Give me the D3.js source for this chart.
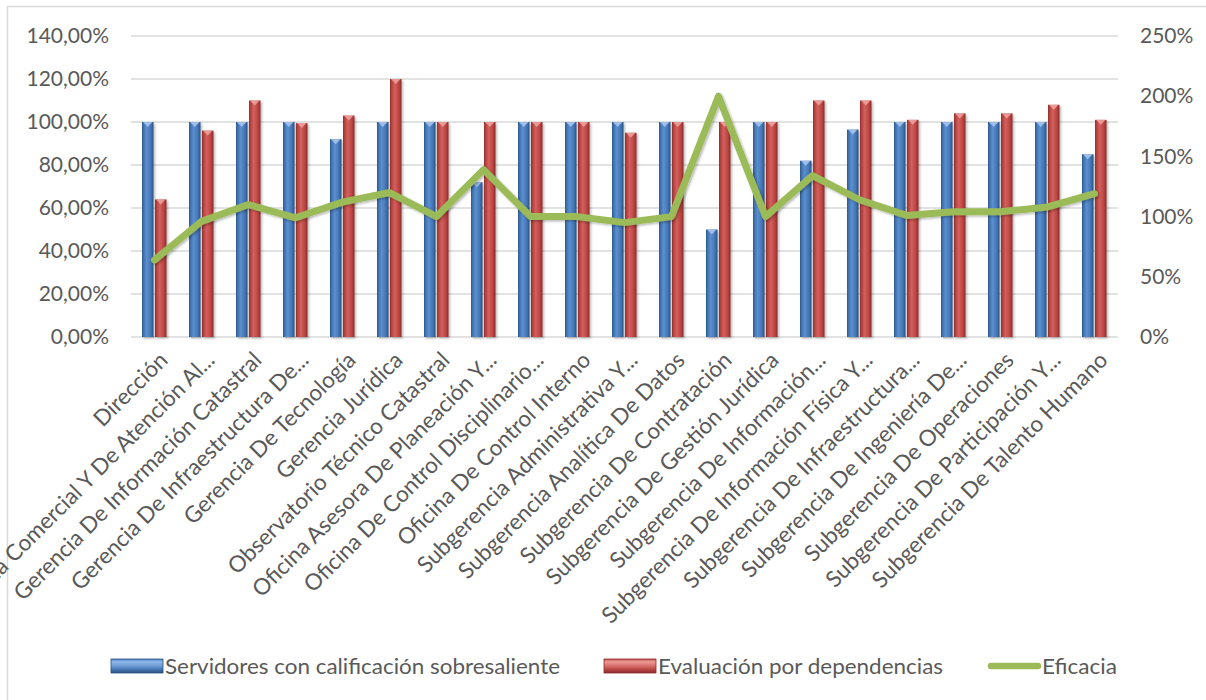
<!DOCTYPE html>
<html>
<head>
<meta charset="utf-8">
<script src="https://cdn.jsdelivr.net/npm/d3@7"></script>
<style>
  html, body { margin: 0; padding: 0; background: #ffffff; }
  svg { display: block; font-family: Lato, "Open Sans", sans-serif; }
</style>
</head>
<body>
<svg id="chart" width="1206" height="700"></svg>
<script>
// Dependencias evaluadas
const categories = [
  "Dirección",
  "Gerencia Comercial Y De Atención Al...",
  "Gerencia De Información Catastral",
  "Gerencia De Infraestructura De...",
  "Gerencia De Tecnología",
  "Gerencia Jurídica",
  "Observatorio Técnico Catastral",
  "Oficina Asesora De Planeación Y...",
  "Oficina De Control Disciplinario...",
  "Oficina De Control Interno",
  "Subgerencia Administrativa Y...",
  "Subgerencia Analítica De Datos",
  "Subgerencia De Contratación",
  "Subgerencia De Gestión Jurídica",
  "Subgerencia De Información...",
  "Subgerencia De Información Física Y...",
  "Subgerencia De Infraestructura...",
  "Subgerencia De Ingeniería De...",
  "Subgerencia De Operaciones",
  "Subgerencia De Participación Y...",
  "Subgerencia De Talento Humano"
];

// Servidores con calificación sobresaliente (eje izquierdo)
const servidores = [1.00, 1.00, 1.00, 1.00, 0.92, 1.00, 1.00, 0.72, 1.00, 1.00, 1.00,
                    1.00, 0.50, 1.00, 0.82, 0.965, 1.00, 1.00, 1.00, 1.00, 0.85];

// Evaluación por dependencias (eje izquierdo)
const evaluacion = [0.64, 0.96, 1.10, 0.995, 1.03, 1.20, 1.00, 1.00, 1.00, 1.00, 0.95,
                    1.00, 1.00, 1.00, 1.10, 1.10, 1.01, 1.04, 1.04, 1.08, 1.01];

// Eficacia (eje derecho)
const eficacia = [0.64, 0.96, 1.10, 0.99, 1.12, 1.20, 1.00, 1.39, 1.00, 1.00, 0.95,
                  1.00, 2.00, 1.00, 1.34, 1.14, 1.01, 1.04, 1.04, 1.08, 1.19];

const leftTicks = [0, 0.2, 0.4, 0.6, 0.8, 1.0, 1.2, 1.4];
const rightTicks = [0, 0.5, 1.0, 1.5, 2.0, 2.5];

const seriesNames = ["Servidores con calificación sobresaliente", "Evaluación por dependencias", "Eficacia"];

const svg = d3.select("#chart");
const W = 1206, H = 700;
const plot = { left: 131, right: 1118, top: 36, bottom: 337 };

const esLocale = d3.formatLocale({ decimal: ",", thousands: ".", grouping: [3], currency: ["", " €"], percent: "%" });
const fmtLeft = esLocale.format(".2%");
const fmtRight = d3.format(".0%");

const x = d3.scaleBand().domain(categories).range([plot.left, plot.right]).padding(0);
const yL = d3.scaleLinear().domain([0, 1.4]).range([plot.bottom, plot.top]);
const yR = d3.scaleLinear().domain([0, 2.5]).range([plot.bottom, plot.top]);

const textColor = "#595959";
const gridColor = "#d9d9d9";

// Fondo y borde del área del gráfico
svg.append("rect").attr("width", W).attr("height", H).attr("fill", "#ffffff");
svg.append("rect").attr("x", 7.5).attr("y", 6.5).attr("width", 1400).attr("height", 900)
  .attr("fill", "none").attr("stroke", gridColor).attr("stroke-width", 1.5);

// Degradados para el efecto de barra en relieve
const defs = svg.append("defs");
function barGradient(id, stops) {
  const g = defs.append("linearGradient").attr("id", id).attr("x1", "0%").attr("x2", "100%").attr("y1", "0%").attr("y2", "0%");
  stops.forEach(s => g.append("stop").attr("offset", s[0]).attr("stop-color", s[1]));
}
barGradient("gBlue", [["0%", "#2c5587"], ["12%", "#3f6fab"], ["40%", "#5b8fd0"], ["75%", "#4677b5"], ["100%", "#2a5283"]]);
barGradient("gRed", [["0%", "#8e2f2d"], ["12%", "#b23f3c"], ["40%", "#d2605d"], ["75%", "#bd4643"], ["100%", "#8a2d2b"]]);

function legendGradient(id, stops) {
  const g = defs.append("linearGradient").attr("id", id).attr("x1", "0%").attr("x2", "0%").attr("y1", "0%").attr("y2", "100%");
  stops.forEach(s => g.append("stop").attr("offset", s[0]).attr("stop-color", s[1]));
}
legendGradient("lgBlue", [["0%", "#4f81bd"], ["20%", "#8fb8ea"], ["50%", "#6d9bd6"], ["80%", "#3f6ea8"], ["100%", "#2a5283"]]);
legendGradient("lgRed", [["0%", "#c0504d"], ["20%", "#f09a97"], ["50%", "#d76c69"], ["80%", "#b03f3c"], ["100%", "#8a2d2b"]]);

const shadow = defs.append("filter").attr("id", "shadow").attr("x", "-20%").attr("y", "-20%").attr("width", "140%").attr("height", "140%");
shadow.append("feDropShadow").attr("dx", 1.5).attr("dy", 1.5).attr("stdDeviation", 1.2)
  .attr("flood-color", "#000000").attr("flood-opacity", 0.28);

// Líneas de cuadrícula
svg.append("g").selectAll("line").data(leftTicks).join("line")
  .attr("x1", plot.left).attr("x2", plot.right)
  .attr("y1", d => yL(d)).attr("y2", d => yL(d))
  .attr("stroke", gridColor).attr("stroke-width", 1.6);

// Ejes
const axisL = svg.append("g").attr("transform", `translate(${plot.left - 22},0)`)
  .call(d3.axisLeft(yL).tickValues(leftTicks).tickFormat(fmtLeft).tickSize(0).tickPadding(0));
const axisR = svg.append("g").attr("transform", `translate(${plot.right + 22},0)`)
  .call(d3.axisRight(yR).tickValues(rightTicks).tickFormat(fmtRight).tickSize(0).tickPadding(0));
[axisL, axisR].forEach(a => {
  a.select(".domain").remove();
  a.selectAll("text").attr("fill", textColor).style("font-size", "21px").style("font-family", "Lato, sans-serif");
});

// Barras
const barW = 11.5;
const bars = svg.append("g");
function drawBars(values, offset, fill, cap) {
  const g = bars.append("g").attr("filter", "url(#shadow)");
  g.selectAll("rect").data(values).join("rect")
    .attr("x", (d, i) => x(categories[i]) + x.bandwidth() / 2 + offset)
    .attr("y", d => yL(d))
    .attr("width", barW)
    .attr("height", d => yL(0) - yL(d))
    .attr("fill", fill);
  // tapa biselada superior
  bars.append("g").selectAll("path").data(values).join("path")
    .attr("d", (d, i) => {
      const x0 = x(categories[i]) + x.bandwidth() / 2 + offset;
      const y0 = yL(d);
      return `M${x0 + 1},${y0} L${x0 + barW - 1},${y0} L${x0 + barW / 2},${y0 + 5} Z`;
    })
    .attr("fill", cap).attr("opacity", 0.85);
}
drawBars(servidores, -12.5, "url(#gBlue)", "#a9c8f0");
drawBars(evaluacion, 0.5, "url(#gRed)", "#f0a4a2");

// Línea de eficacia
const line = d3.line()
  .x((d, i) => x(categories[i]) + x.bandwidth() / 2)
  .y(d => yR(d));
svg.append("path").datum(eficacia)
  .attr("d", line)
  .attr("fill", "none")
  .attr("stroke", "#9bbb59")
  .attr("stroke-width", 7)
  .attr("stroke-linejoin", "round")
  .attr("stroke-linecap", "round")
  .attr("filter", "url(#shadow)");

// Etiquetas de categoría giradas
svg.append("g").selectAll("text").data(categories).join("text")
  .attr("transform", d => `translate(${x(d) + x.bandwidth() / 2 + 9},${plot.bottom + 19}) rotate(-45)`)
  .attr("text-anchor", "end")
  .attr("dy", "0.35em")
  .attr("fill", textColor)
  .style("font-size", "22.5px")
  .text(d => d);

// Leyenda
const leg = svg.append("g");
const legY = 666;
leg.append("rect").attr("x", 111).attr("y", legY - 7).attr("width", 52).attr("height", 14)
  .attr("fill", "url(#lgBlue)").attr("stroke", "#2a5283").attr("stroke-width", 0.8);
leg.append("text").attr("x", 165).attr("y", legY).attr("dy", "0.36em")
  .attr("fill", textColor).style("font-size", "21px")
  .attr("textLength", 395).attr("lengthAdjust", "spacingAndGlyphs")
  .text(seriesNames[0]);
leg.append("rect").attr("x", 604).attr("y", legY - 7).attr("width", 52).attr("height", 14)
  .attr("fill", "url(#lgRed)").attr("stroke", "#8a2d2b").attr("stroke-width", 0.8);
leg.append("text").attr("x", 658).attr("y", legY).attr("dy", "0.36em")
  .attr("fill", textColor).style("font-size", "21px")
  .attr("textLength", 285).attr("lengthAdjust", "spacingAndGlyphs")
  .text(seriesNames[1]);
leg.append("line").attr("x1", 991).attr("x2", 1038).attr("y1", legY).attr("y2", legY)
  .attr("stroke", "#9bbb59").attr("stroke-width", 6.5).attr("stroke-linecap", "round");
leg.append("text").attr("x", 1042).attr("y", legY).attr("dy", "0.36em")
  .attr("fill", textColor).style("font-size", "21px")
  .attr("textLength", 75).attr("lengthAdjust", "spacingAndGlyphs")
  .text(seriesNames[2]);
</script>
</body>
</html>
